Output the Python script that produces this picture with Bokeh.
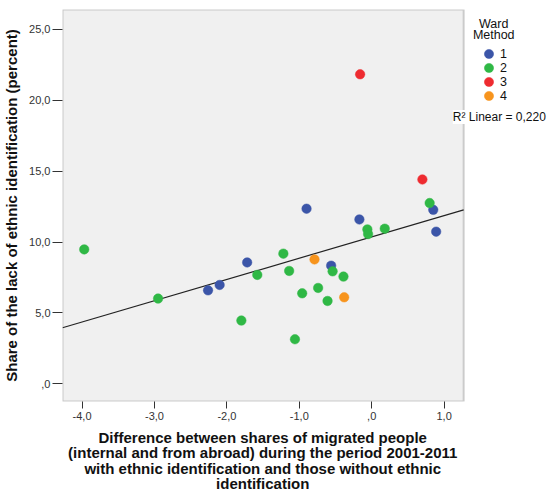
import numpy as np
from bokeh.plotting import figure
from bokeh.models import Range1d, FixedTicker, Legend, LegendItem, Label, BoxAnnotation
from bokeh.embed import file_html
from bokeh.resources import INLINE

# ---- data ----
cluster_names = ["1", "2", "3", "4"]
blue_x = [-2.26, -2.10, -1.72, -0.90, -0.56, -0.17, 0.85, 0.89]
blue_y = [6.59, 6.97, 8.56, 12.35, 8.33, 11.59, 12.27, 10.73]
green_x = [-3.97, -2.95, -1.80, -1.58, -1.22, -1.14, -1.06, -0.96, -0.74, -0.61,
           -0.54, -0.39, -0.06, -0.05, 0.18, 0.80]
green_y = [9.48, 6.01, 4.46, 7.68, 9.18, 7.96, 3.14, 6.38, 6.76, 5.84,
           7.93, 7.56, 10.89, 10.56, 10.94, 12.75]
red_x = [-0.16, 0.70]
red_y = [21.83, 14.41]
orange_x = [-0.79, -0.38]
orange_y = [8.77, 6.10]

x_ticks = [-4, -3, -2, -1, 0, 1]
x_tick_labels = ["-4,0", "-3,0", "-2,0", "-1,0", ",0", "1,0"]
y_ticks = [0, 5, 10, 15, 20, 25]
y_tick_labels = [",0", "5,0", "10,0", "15,0", "20,0", "25,0"]
legend_title = ["Ward", "Method"]
r2_text = "R\u00b2 Linear = 0,220"
x_title_lines = ["Difference between shares of migrated people",
                 "(internal and from abroad) during the period 2001-2011",
                 "with ethnic identification and those without ethnic",
                 "identification"]
y_title = "Share of the lack of ethnic identification (percent)"

FONT = "Liberation Sans"
x0, x1 = -4.27, 1.27          # visible plot-area range
y0, y1 = -1.25, 26.4
FRAME_L, PLOT_R, CANVAS_W = 61, 463, 550
x_ext = x0 + (x1 - x0) * (CANVAS_W - FRAME_L) / (PLOT_R - FRAME_L)  # frame extends under legend

p = figure(width=CANVAS_W, height=495, output_backend="svg", toolbar_location=None,
           x_range=Range1d(x0, x_ext), y_range=Range1d(y0, y1),
           min_border_left=FRAME_L, min_border_right=0, min_border_top=9, min_border_bottom=94)
p.background_fill_color = "white"
p.border_fill_color = "white"
p.outline_line_color = None
p.xgrid.visible = False
p.ygrid.visible = False

p.add_layout(BoxAnnotation(left=x0, right=x1, bottom=y0, top=y1, level="underlay",
                           fill_color="#f0f0f0", fill_alpha=1,
                           line_color="#6a6a6a", line_width=2))

for ax, ticks, labels in ((p.xaxis[0], x_ticks, x_tick_labels), (p.yaxis[0], y_ticks, y_tick_labels)):
    ax.ticker = FixedTicker(ticks=ticks)
    ax.major_label_overrides = {t: l for t, l in zip(ticks, labels)}
    ax.major_tick_in = 0
    ax.minor_tick_line_color = None
    ax.axis_line_color = None
    ax.major_tick_line_color = "#333333"
    ax.major_label_text_font = FONT
    ax.major_label_text_font_size = "11px"
    ax.major_label_text_color = "#333333"
    ax.axis_label_text_font = FONT
    ax.axis_label_text_font_style = "bold"
    ax.axis_label_text_font_size = "15px"
    ax.axis_label_text_color = "#111111"
    ax.axis_label_text_line_height = 0.92

p.xaxis.major_tick_out = 7
p.xaxis.major_label_standoff = 3
p.yaxis.major_tick_out = 10
p.yaxis.major_label_standoff = 2

# shift the centred x title under the plot area (frame extends under the legend)
pad = "\u00a0" * 21
p.xaxis.axis_label = "\n".join(l + pad for l in x_title_lines)
p.yaxis.axis_label = y_title
p.xaxis.axis_label_standoff = 6
p.yaxis.axis_label_standoff = 6

# regression line fitted from all points
all_x = np.array(blue_x + green_x + red_x + orange_x)
all_y = np.array(blue_y + green_y + red_y + orange_y)
slope, icpt = np.polyfit(all_x, all_y, 1)
lx = np.array([x0, x1])
p.line(lx, slope * lx + icpt, line_color="#222222", line_width=1.2)

colors = ["#3b55a8", "#2fb845", "#ee2b30", "#f7941d"]
series = [(blue_x, blue_y), (green_x, green_y), (red_x, red_y), (orange_x, orange_y)]
renderers = []
for (xs, ys), c in zip(series, colors):
    r = p.scatter(xs, ys, size=9.5, fill_color=c, line_color=c, line_alpha=0.5, line_width=1)
    renderers.append(r)

# one legend per entry so the rows can sit closer than the glyph box
for i, (n, r) in enumerate(zip(cluster_names, renderers)):
    lg = Legend(items=[LegendItem(label=n, renderers=[r])], location=(415, 336 - 14 * i))
    lg.background_fill_alpha = 0
    lg.border_line_color = None
    lg.padding = 0
    lg.margin = 0
    lg.spacing = 0
    lg.glyph_width = 23
    lg.glyph_height = 23
    lg.label_height = 12
    lg.label_standoff = 0
    lg.label_text_font = FONT
    lg.label_text_font_size = "12.5px"
    lg.label_text_color = "#111111"
    lg.label_text_baseline = "middle"
    p.add_layout(lg, "center")

for txt, yy in zip(legend_title, (25.39, 24.6)):
    p.add_layout(Label(x=1.685, y=yy, text=txt,
                       text_align="center", text_baseline="middle",
                       text_font=FONT, text_font_size="12.5px", text_color="#111111"))
p.add_layout(Label(x=1.12, y=18.82, text=r2_text,
                   text_align="left", text_baseline="middle",
                   background_fill_color="white", background_fill_alpha=1,
                   text_font=FONT, text_font_size="12px", text_color="#111111"))

open("out.html", "w").write(file_html(p, INLINE))
